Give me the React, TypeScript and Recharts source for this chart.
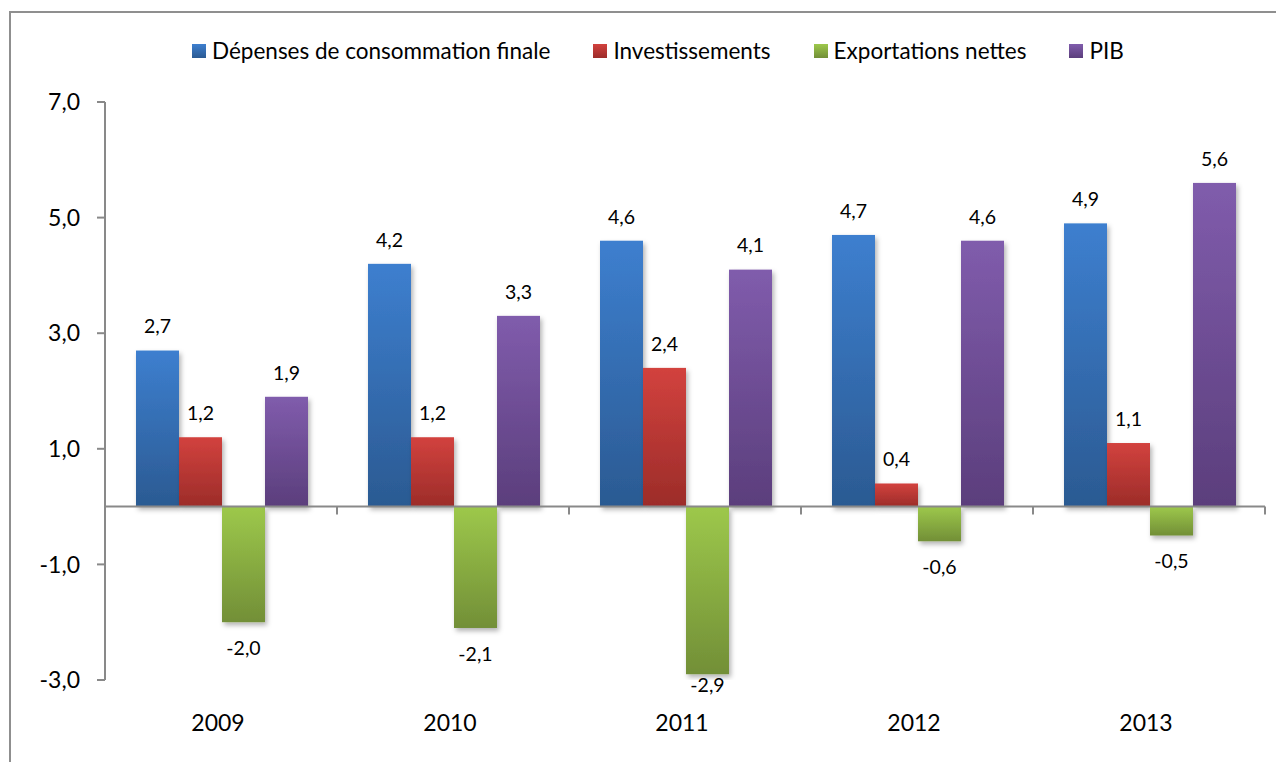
import React from 'react';
import { BarChart, Bar, XAxis, YAxis, ReferenceLine, LabelList } from 'recharts';

const years = ['2009', '2010', '2011', '2012', '2013'];
const consommation = [2.7, 4.2, 4.6, 4.7, 4.9];
const investissements = [1.2, 1.2, 2.4, 0.4, 1.1];
const exportations = [-2.0, -2.1, -2.9, -0.6, -0.5];
const pib = [1.9, 3.3, 4.1, 4.6, 5.6];
const yTicks = [-3, -1, 1, 3, 5, 7];

const series = [
  { key: 'conso', name: 'Dépenses de consommation finale', top: '#3d7fcf', bottom: '#2b5a92' },
  { key: 'invest', name: 'Investissements', top: '#d2423e', bottom: '#9c2c29' },
  { key: 'export', name: 'Exportations nettes', top: '#9dc84b', bottom: '#728f37' },
  { key: 'pib', name: 'PIB', top: '#805cac', bottom: '#5b3e7c' },
];

const data = years.map((year, i) => ({
  year,
  conso: consommation[i],
  invest: investissements[i],
  export: exportations[i],
  pib: pib[i],
}));

const W = 1276;
const H = 754;
const xAxisHeight = 82;
const margin = { top: 94, right: 19, bottom: 0, left: 0 };
const yAxisWidth = 97;
const plotTop = margin.top;
const plotBottom = H - margin.bottom - xAxisHeight;
const plotLeft = margin.left + yAxisWidth;
const plotWidth = W - plotLeft - margin.right;
const zeroY = plotTop + (7 / 10) * (plotBottom - plotTop);
const bandWidth = plotWidth / years.length;

const FONT = 'Lato, "Open Sans", sans-serif';
const fmt = (v: number) => v.toFixed(1).replace('.', ',');

const XTick = (props: any) => {
  const { x, payload } = props;
  const right = x + bandWidth / 2;
  return (
    <g>
      <line x1={right} x2={right} y1={zeroY} y2={zeroY + 8} stroke="#898989" strokeWidth={2} />
      <text x={x - 3} y={plotBottom + 51} textAnchor="middle" fontSize={23} fontFamily={FONT} fill="#000">
        {payload.value}
      </text>
    </g>
  );
};

const BarShape = (props: any) => {
  const { x, y, width, height, fill } = props;
  let top = y;
  let h = height;
  if (h < 0) {
    top = y + h;
    h = -h;
  }
  return <rect x={x} y={top} width={width} height={h} fill={fill} filter="url(#barShadow)" />;
};

const ValueLabel = (props: any) => {
  const { x, y, width, height, value } = props;
  const top = Math.min(y, y + height);
  const bottom = Math.max(y, y + height);
  const cy = value >= 0 ? top - 24 : Math.min(bottom + 26, plotBottom + 5);
  return (
    <text
      x={x + width / 2}
      y={cy}
      dy="0.35em"
      textAnchor="middle"
      fontSize={19.5}
      fontFamily={FONT}
      fill="#000"
    >
      {fmt(value)}
    </text>
  );
};

function LegendBox() {
  return (
    <div
      style={{
        position: 'absolute',
        left: 184,
        top: 29,
        display: 'flex',
        alignItems: 'center',
        gap: 43,
        fontFamily: FONT,
        fontSize: 22.5,
        color: '#000',
        whiteSpace: 'nowrap',
      }}
    >
      {series.map((s) => (
        <div key={s.key} style={{ display: 'flex', alignItems: 'center' }}>
          <span
            style={{
              display: 'inline-block',
              width: 14,
              height: 14,
              marginRight: 6,
              background: `linear-gradient(${s.top}, ${s.bottom})`,
            }}
          />
          <span>{s.name}</span>
        </div>
      ))}
    </div>
  );
}

export default function App() {
  return (
    <div style={{ position: 'relative', width: W, height: H, overflow: 'hidden', background: '#fff' }}>
      <div
        style={{
          position: 'absolute',
          left: 1,
          top: 3,
          width: W + 20,
          height: H + 20,
          borderLeft: '2px solid #8f8f8f',
          borderTop: '2px solid #8f8f8f',
        }}
      />
      <LegendBox />
      <BarChart
        width={W}
        height={H}
        data={data}
        margin={margin}
        barCategoryGap={31}
        barGap={0}
        style={{ position: 'absolute', left: 0, top: 0 }}
      >
        <defs>
          {series.map((s) => (
            <linearGradient key={s.key} id={`grad-${s.key}`} x1="0" y1="0" x2="0" y2="1">
              <stop offset="0%" stopColor={s.top} />
              <stop offset="100%" stopColor={s.bottom} />
            </linearGradient>
          ))}
          <filter id="barShadow" x="-20%" y="-20%" width="150%" height="150%">
            <feDropShadow dx="2" dy="3" stdDeviation="2.5" floodColor="#000" floodOpacity="0.3" />
          </filter>
        </defs>
        <XAxis
          dataKey="year"
          height={xAxisHeight}
          axisLine={false}
          tickLine={false}
          tick={<XTick />}
          interval={0}
        />
        <YAxis
          domain={[-3, 7]}
          ticks={yTicks}
          width={yAxisWidth}
          tickFormatter={fmt}
          axisLine={{ stroke: '#898989', strokeWidth: 2 }}
          tickLine={{ stroke: '#898989', strokeWidth: 2 }}
          tickSize={8}
          tickMargin={17}
          tick={{ fontSize: 23, fontFamily: FONT, fill: '#000' }}
          allowDataOverflow
        />
        {series.map((s) => (
          <Bar
            key={s.key}
            dataKey={s.key}
            name={s.name}
            fill={`url(#grad-${s.key})`}
            shape={<BarShape />}
            isAnimationActive={false}
          >
            <LabelList dataKey={s.key} content={<ValueLabel />} />
          </Bar>
        ))}
        <ReferenceLine y={0} stroke="#898989" strokeWidth={2} />
      </BarChart>
    </div>
  );
}
